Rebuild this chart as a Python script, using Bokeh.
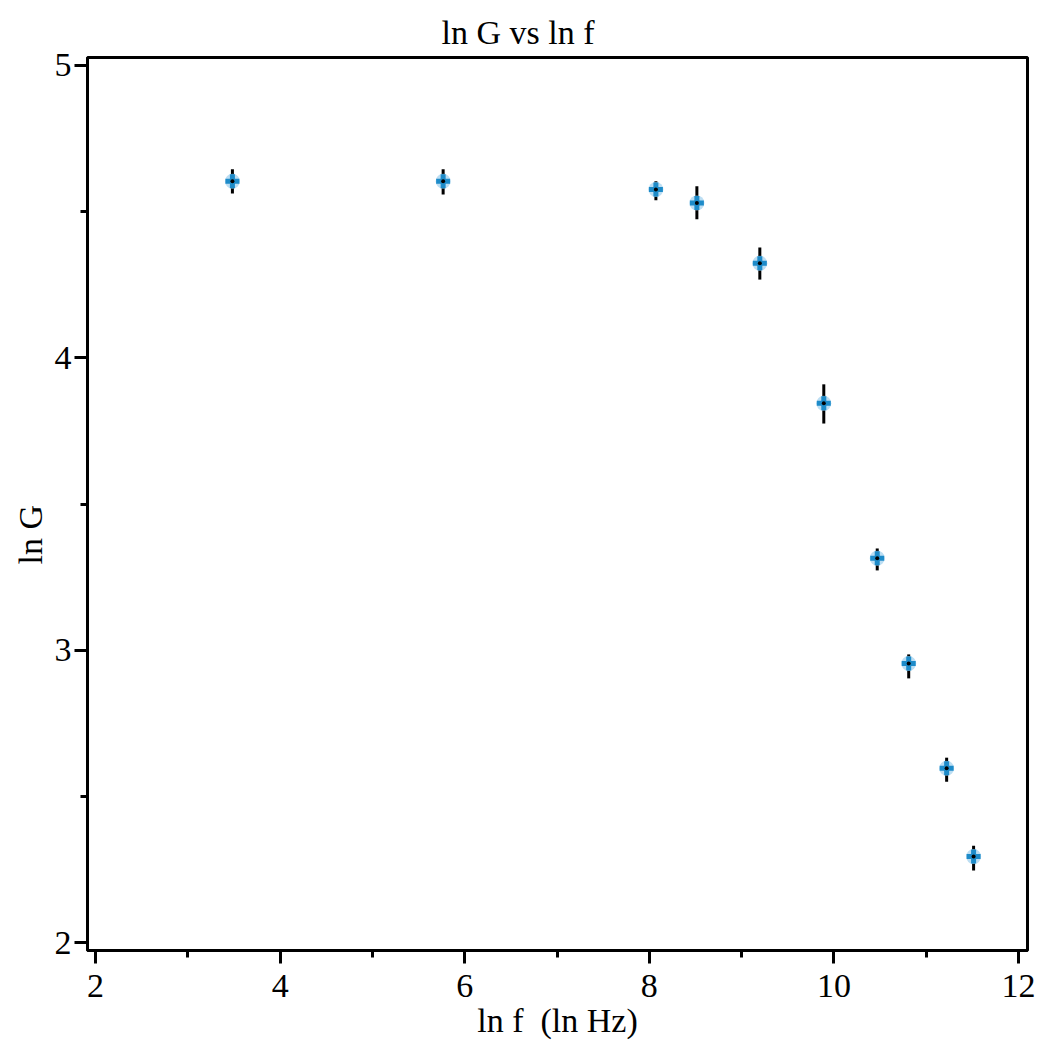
from bokeh.plotting import figure
from bokeh.models import Range1d, FixedTicker, ColumnDataSource, Title
from bokeh.embed import file_html
from bokeh.resources import INLINE

# data
ln_f = [3.483, 5.766, 8.071, 8.515, 9.197, 9.890, 10.469, 10.810, 11.221, 11.513]
ln_G = [4.603, 4.603, 4.575, 4.529, 4.323, 3.844, 3.315, 2.955, 2.597, 2.295]
ln_G_upper = [4.644, 4.644, 4.603, 4.586, 4.377, 3.909, 3.348, 2.986, 2.633, 2.332]
ln_G_lower = [4.561, 4.558, 4.538, 4.473, 4.267, 3.775, 3.273, 2.904, 2.551, 2.247]

x_major = [2, 4, 6, 8, 10, 12]
x_minor = [3, 5, 7, 9, 11]
y_major = [2, 3, 4, 5]
y_minor = [2.5, 3.5, 4.5]

title_text = "ln G vs ln f"
x_label_text = "ln f\u00a0\u00a0(ln Hz)"
y_label_text = "ln G"

FONT = "Liberation Serif"

src = ColumnDataSource(dict(x=ln_f, y=ln_G, lo=ln_G_lower, hi=ln_G_upper))

p = figure(width=1039, height=1044, output_backend="svg", toolbar_location=None,
           x_range=Range1d(1.913, 12.097), y_range=Range1d(1.974, 5.026),
           min_border_left=87, min_border_right=12, min_border_top=57, min_border_bottom=94)

p.title = Title(text=title_text, align="left", offset=354, standoff=13,
                text_font=FONT, text_font_size="34px", text_font_style="normal",
                text_color="black")

p.xgrid.visible = False
p.ygrid.visible = False
p.outline_line_color = "black"
p.outline_line_width = 3
p.outline_line_alpha = 1.0

p.xaxis.ticker = FixedTicker(ticks=x_major, minor_ticks=x_minor)
p.yaxis.ticker = FixedTicker(ticks=y_major, minor_ticks=y_minor)
p.xaxis.axis_label = x_label_text

for ax in (p.xaxis, p.yaxis):
    ax.axis_line_color = "black"
    ax.axis_line_width = 3
    ax.major_tick_line_width = 3
    ax.minor_tick_line_width = 3
    ax.major_tick_line_color = "black"
    ax.minor_tick_line_color = "black"
    ax.major_tick_in = 0
    ax.minor_tick_in = 0
    ax.major_tick_out = 13
    ax.minor_tick_out = 7
    ax.major_label_text_font = FONT
    ax.major_label_text_font_size = "34px"
    ax.major_label_text_color = "black"
    ax.axis_label_text_font = FONT
    ax.axis_label_text_font_size = "34px"
    ax.axis_label_text_font_style = "normal"
    ax.axis_label_text_color = "black"

p.xaxis.major_label_standoff = 11
p.xaxis.axis_label_standoff = 2
p.yaxis.major_label_standoff = 3

ylab = Title(text=y_label_text, align="left", offset=386, standoff=5,
             text_font=FONT, text_font_size="34px", text_font_style="normal",
             text_color="black")
p.add_layout(ylab, "left")

p.segment(x0="x", y0="lo", x1="x", y1="hi", source=src, line_color="black", line_width=3)
p.scatter(x="x", y="y", source=src, marker="circle", size=15, fill_color="#9fd0ee",
          fill_alpha=0.7, line_color=None)
p.scatter(x="x", y="y", source=src, marker="cross", size=14, line_color="#1d8bc9",
          line_width=5)
p.scatter(x="x", y="y", source=src, marker="circle", size=4, fill_color="black",
          line_color=None)

open("out.html", "w").write(file_html(p, INLINE))
